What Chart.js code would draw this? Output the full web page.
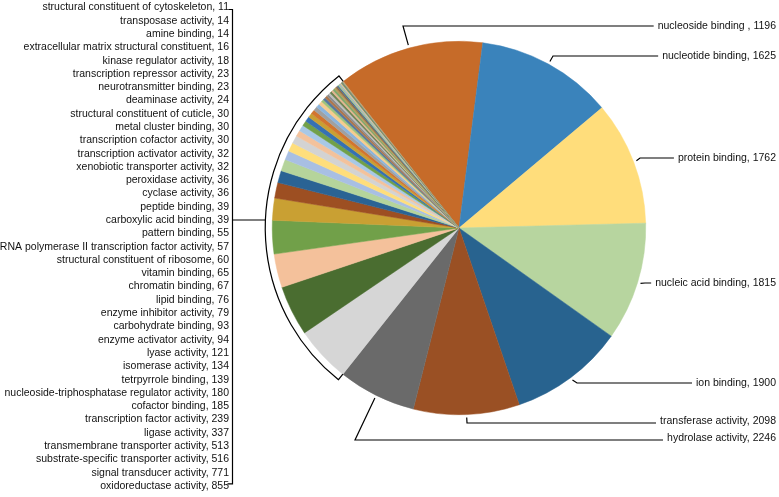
<!DOCTYPE html>
<html>
<head>
<meta charset="utf-8">
<script src="https://cdn.jsdelivr.net/npm/chart.js@4.4.0/dist/chart.umd.min.js"></script>
<style>
  html, body { margin: 0; padding: 0; background: #fff; }
  canvas { display: block; }
</style>
</head>
<body>
<canvas id="chart" width="779" height="497"></canvas>
<script>
// GO molecular function terms, largest first (pie goes clockwise in this order)
const terms = [
  "hydrolase activity", "transferase activity", "ion binding", "nucleic acid binding",
  "protein binding", "nucleotide binding", "nucleoside binding ",
  "oxidoreductase activity", "signal transducer activity",
  "substrate-specific transporter activity", "transmembrane transporter activity",
  "ligase activity", "transcription factor activity", "cofactor binding",
  "nucleoside-triphosphatase regulator activity", "tetrpyrrole binding",
  "isomerase activity", "lyase activity", "enzyme activator activity",
  "carbohydrate binding", "enzyme inhibitor activity", "lipid binding",
  "chromatin binding", "vitamin binding", "structural constituent of ribosome",
  "RNA polymerase II transcription factor activity", "pattern binding",
  "carboxylic acid binding", "peptide binding", "cyclase activity",
  "peroxidase activity", "xenobiotic transporter activity",
  "transcription activator activity", "transcription cofactor activity",
  "metal cluster binding", "structural constituent of cuticle",
  "deaminase activity", "neurotransmitter binding",
  "transcription repressor activity", "kinase regulator activity",
  "extracellular matrix structural constituent", "amine binding",
  "transposase activity", "structural constituent of cytoskeleton"
];
const counts = [
  2246, 2098, 1900, 1815, 1762, 1625, 1196,
  855, 771, 516, 513, 337, 239, 185, 180, 139, 134, 121, 94, 93, 79, 76,
  67, 65, 60, 57, 55, 39, 39, 36, 36, 32, 32, 30, 30, 30, 24, 23, 23, 18,
  16, 14, 14, 11
];
const sliceColors = [
  "#C66B29", "#3A83BB", "#FFDD7B", "#B7D59F", "#28638F", "#9A5024", "#6A6A6A",
  "#D6D6D6", "#4A6D30", "#F4C19B", "#71A049", "#C9A033", "#9D4F22", "#2A6394",
  "#B5D49B", "#A8BFE3", "#FFDE7B", "#D3D3D3", "#F3C29C", "#A8C8E6", "#71A049",
  "#3571B3", "#C9A033", "#D2752F", "#A0A0A0", "#8BB4DC", "#F6CC8E", "#9DC37B",
  "#56799E", "#B0764A", "#8C8C8C", "#BDBDBD", "#6D8452", "#E3B48F", "#7FA86A",
  "#B59A5A", "#8E6A44", "#4F7391", "#A9C592", "#9FB0C9", "#E0CB8A", "#6E7F6A",
  "#6C8C6E", "#B8A27A"
];

const BIG = 7; // slices labelled one by one on the right
// the original figure lists the big labels smallest-first against the slices
// largest-first, so slice i carries the text of term BIG-1-i
const bigLabelY = [26, 56, 158, 283, 383, 421, 438];
const bigElbow = [[403, 26], [553, 56], [640, 158], [645, 283], [577, 383], [467, 423], [355, 440]];

const FONT = "10.5px 'Liberation Sans', Arial, sans-serif";
const TEXT_RIGHT = 776;
const LIST_RIGHT = 229;
const LIST_TOP = 7.5;
const LIST_STEP = 13.29;
const BRACKET_X = 232.5;
const LINK_Y = 220;

const labelPlugin = {
  id: "goLabels",
  afterDatasetsDraw(chart) {
    const ctx = chart.ctx;
    const arcs = chart.getDatasetMeta(0).data;
    const cx = arcs[0].x, cy = arcs[0].y, R = arcs[0].outerRadius;
    ctx.save();
    ctx.font = FONT;
    ctx.fillStyle = "#111";
    ctx.strokeStyle = "#000";
    ctx.lineWidth = 1.2;
    ctx.textBaseline = "middle";
    ctx.textAlign = "right";

    // right side: leader lines to the big slices
    for (let i = 0; i < BIG; i++) {
      const j = BIG - 1 - i;
      const text = terms[j] + ", " + counts[j];
      const a = (arcs[i].startAngle + arcs[i].endAngle) / 2;
      const ax = cx + Math.cos(a) * (R + 3), ay = cy + Math.sin(a) * (R + 3);
      const w = ctx.measureText(text).width;
      const [ex, ey] = bigElbow[i];
      ctx.beginPath();
      ctx.moveTo(ax, ay);
      ctx.lineTo(ex, ey);
      ctx.lineTo(TEXT_RIGHT - w - 4, ey);
      ctx.stroke();
      ctx.fillText(text, TEXT_RIGHT, bigLabelY[i]);
    }

    // left side: list of the small slices, smallest at the top
    const small = [];
    for (let j = terms.length - 1; j >= BIG; j--) small.push(j);
    small.forEach((j, k) => {
      ctx.fillText(terms[j] + ", " + counts[j], LIST_RIGHT, LIST_TOP + k * LIST_STEP);
    });
    const yTop = LIST_TOP + 2, yBot = LIST_TOP + (small.length - 1) * LIST_STEP - 2;
    ctx.beginPath();
    ctx.moveTo(BRACKET_X - 4, yTop);
    ctx.lineTo(BRACKET_X, yTop);
    ctx.lineTo(BRACKET_X, yBot);
    ctx.lineTo(BRACKET_X - 5, yBot);
    ctx.stroke();

    // arc bracket round the small slices
    const a0 = arcs[BIG].startAngle, a1 = arcs[arcs.length - 1].endAngle;
    const rb = R + 7;
    ctx.beginPath();
    ctx.moveTo(cx + Math.cos(a0) * R, cy + Math.sin(a0) * R);
    ctx.lineTo(cx + Math.cos(a0) * rb, cy + Math.sin(a0) * rb);
    ctx.arc(cx, cy, rb, a0, a1);
    ctx.lineTo(cx + Math.cos(a1) * R, cy + Math.sin(a1) * R);
    ctx.stroke();
    const linkX = cx - Math.sqrt(rb * rb - (LINK_Y - cy) * (LINK_Y - cy));
    ctx.beginPath();
    ctx.moveTo(BRACKET_X, LINK_Y);
    ctx.lineTo(linkX, LINK_Y);
    ctx.stroke();
    ctx.restore();
  }
};

new Chart(document.getElementById("chart"), {
  type: "pie",
  data: {
    labels: terms,
    datasets: [{
      data: counts,
      backgroundColor: sliceColors,
      borderColor: sliceColors,
      borderWidth: 0.5,
      hoverOffset: 0
    }]
  },
  options: {
    responsive: false,
    animation: false,
    rotation: -38.3,
    layout: { padding: { left: 272, right: 133, top: 41, bottom: 82 } },
    plugins: {
      legend: { display: false },
      tooltip: { enabled: false }
    }
  },
  plugins: [labelPlugin]
});
</script>
</body>
</html>
